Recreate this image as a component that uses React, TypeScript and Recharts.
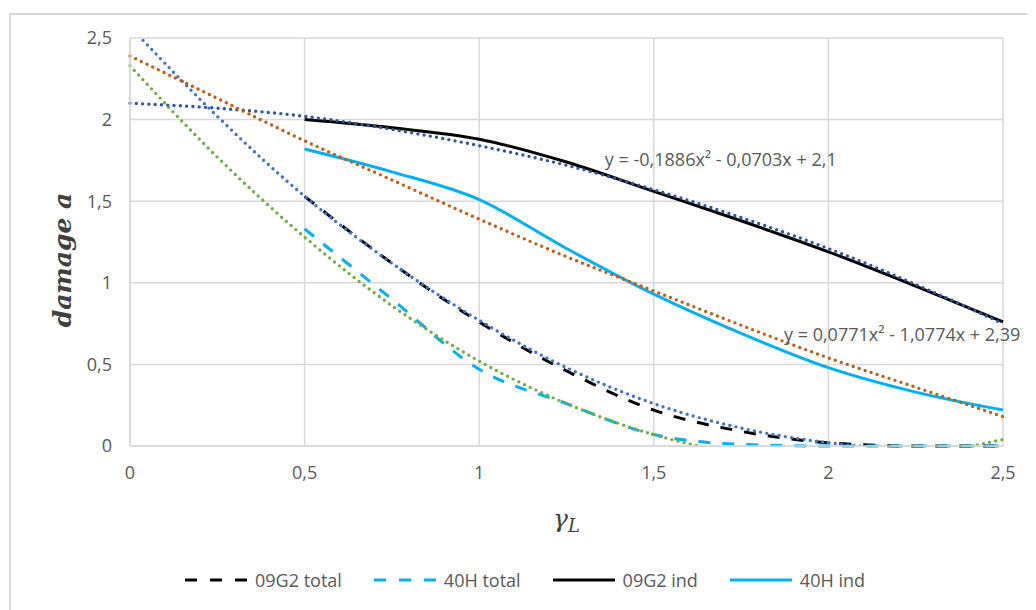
import {
  LineChart,
  Line,
  XAxis,
  YAxis,
  CartesianGrid,
  ReferenceDot,
} from 'recharts'

// x positions (gamma_L)
const xs = [0, 0.25, 0.5, 0.75, 1, 1.25, 1.5, 1.75, 2, 2.25, 2.5]

// measured series (start at 0,5)
const g09Total = [null, null, 1.53, 1.12, 0.76, 0.46, 0.22, 0.09, 0.02, 0.0, 0.0]
const h40Total = [null, null, 1.33, 0.9, 0.47, 0.26, 0.07, 0.01, 0.0, 0.0, 0.0]
const g09Ind = [null, null, 2.0, 1.95, 1.88, 1.74, 1.56, 1.38, 1.19, 0.98, 0.76]
const h40Ind = [null, null, 1.82, 1.68, 1.51, 1.21, 0.93, 0.69, 0.48, 0.33, 0.22]

// trend lines
const trendG09Ind = [2.1, 2.07, 2.02, 1.94, 1.84, 1.72, 1.57, 1.4, 1.21, 0.99, 0.75]
const trendH40Ind = [2.39, 2.13, 1.87, 1.63, 1.39, 1.16, 0.95, 0.74, 0.54, 0.36, 0.18]
const trendG09Total = [2.57, 2.02, 1.53, 1.12, 0.77, 0.48, 0.26, 0.11, 0.02, -0.02, -0.02]
const trendH40Total = [2.33, 1.77, 1.28, 0.86, 0.52, 0.26, 0.07, -0.05, -0.1, -0.06, 0.04]

const ticks = [0, 0.5, 1, 1.5, 2, 2.5]

const eqInd = 'y = -0,1886x² - 0,0703x + 2,1'
const eqH40 = 'y = 0,0771x² - 1,0774x + 2,39'

const legendItems = [
  { name: '09G2 total', color: '#000000', dash: '12 13' },
  { name: '40H total', color: '#00B0F0', dash: '12 13' },
  { name: '09G2 ind', color: '#000000', dash: undefined },
  { name: '40H ind', color: '#00B0F0', dash: undefined },
]

const data = xs.map((x, i) => ({
  x,
  g09Total: g09Total[i],
  h40Total: h40Total[i],
  g09Ind: g09Ind[i],
  h40Ind: h40Ind[i],
  trendG09Ind: trendG09Ind[i],
  trendH40Ind: trendH40Ind[i],
  trendG09Total: trendG09Total[i],
  trendH40Total: trendH40Total[i],
}))

const fmt = (v: number) => String(v).replace('.', ',')
const tickStyle = { fill: '#595959', fontSize: 18, fontFamily: 'Open Sans' }
const dotted = { strokeDasharray: '0 6.3', strokeLinecap: 'round' as const, strokeWidth: 3.4 }

export default function App() {
  return (
    <div style={{ position: 'relative', width: 1028, height: 602, overflow: 'hidden', background: '#fff' }}>
      <div
        style={{
          position: 'absolute',
          left: 1,
          top: 5,
          width: 1100,
          height: 700,
          borderLeft: '2px solid #d9d9d9',
          borderTop: '2px solid #d9d9d9',
        }}
      />
      <LineChart
        width={1028}
        height={602}
        data={data}
        margin={{ top: 30, right: 33, bottom: 134, left: 62 }}
        style={{ position: 'absolute', left: 0, top: 0 }}
      >
        <CartesianGrid stroke="#d9d9d9" strokeWidth={1.5} yAxisId="main" />
        <XAxis
          dataKey="x"
          type="number"
          domain={[0, 2.5]}
          ticks={ticks}
          tickFormatter={fmt}
          tick={tickStyle}
          tickLine={false}
          tickMargin={14}
          axisLine={{ stroke: '#d9d9d9', strokeWidth: 1.5 }}
          height={30}
          label={{
            content: () => (
              <text x={545} y={519} fontFamily="DejaVu Serif" fontStyle="italic" fill="#404040">
                <tspan fontSize={25}>γ</tspan>
                <tspan fontSize={18} dy={5}>L</tspan>
              </text>
            ),
          }}
        />
        <YAxis
          yAxisId="main"
          type="number"
          domain={[0, 2.5]}
          ticks={ticks}
          tickFormatter={fmt}
          tick={tickStyle}
          tickLine={false}
          tickMargin={12}
          axisLine={{ stroke: '#d9d9d9', strokeWidth: 1.5 }}
          width={60}
          label={{
            content: () => (
              <text
                x={54}
                y={252}
                transform="rotate(-90, 54, 252)"
                textAnchor="middle"
                dy="0.35em"
                fontFamily="DejaVu Serif"
                fontStyle="italic"
                fontWeight="bold"
                fontSize={25}
                fill="#404040"
              >
                damage a
              </text>
            ),
          }}
        />
        <YAxis yAxisId="trend" hide type="number" domain={[0, 2.5]} allowDataOverflow />

        <Line yAxisId="main" type="monotone" dataKey="g09Total" stroke="#000000" strokeWidth={3} strokeDasharray="12 12" dot={false} isAnimationActive={false} />
        <Line yAxisId="main" type="monotone" dataKey="h40Total" stroke="#00B0F0" strokeWidth={3} strokeDasharray="12 12" dot={false} isAnimationActive={false} />
        <Line yAxisId="main" type="monotone" dataKey="g09Ind" stroke="#000000" strokeWidth={3} dot={false} isAnimationActive={false} />
        <Line yAxisId="main" type="monotone" dataKey="h40Ind" stroke="#00B0F0" strokeWidth={3} dot={false} isAnimationActive={false} />

        <Line yAxisId="trend" type="monotone" dataKey="trendG09Total" stroke="#4472C4" {...dotted} dot={false} isAnimationActive={false} />
        <Line yAxisId="trend" type="monotone" dataKey="trendH40Total" stroke="#70AD47" {...dotted} dot={false} isAnimationActive={false} />
        <Line yAxisId="trend" type="monotone" dataKey="trendG09Ind" stroke="#2F5597" {...dotted} dot={false} isAnimationActive={false} />
        <Line yAxisId="trend" type="monotone" dataKey="trendH40Ind" stroke="#C55A11" {...dotted} dot={false} isAnimationActive={false} />

        <ReferenceDot
          yAxisId="main"
          x={1.357}
          y={1.752}
          r={1}
          fill="none"
          stroke="none"
          label={{ value: eqInd, position: 'right', offset: 0, ...tickStyle }}
        />
        <ReferenceDot
          yAxisId="main"
          x={1.87}
          y={0.68}
          r={1}
          fill="none"
          stroke="none"
          label={{ value: eqH40, position: 'right', offset: 0, ...tickStyle }}
        />
      </LineChart>
      <div
        style={{
          position: 'absolute',
          left: 177,
          top: 560,
          height: 24,
          display: 'flex',
          alignItems: 'center',
          gap: 32,
          fontFamily: 'Open Sans',
          fontSize: 18,
          color: '#595959',
        }}
      >
        {legendItems.map((it) => (
          <div key={it.name} style={{ display: 'flex', alignItems: 'center', gap: 8 }}>
            <svg width={62} height={6}>
              <line x1={0} y1={3} x2={62} y2={3} stroke={it.color} strokeWidth={3} strokeDasharray={it.dash} />
            </svg>
            <span>{it.name}</span>
          </div>
        ))}
      </div>
    </div>
  )
}
